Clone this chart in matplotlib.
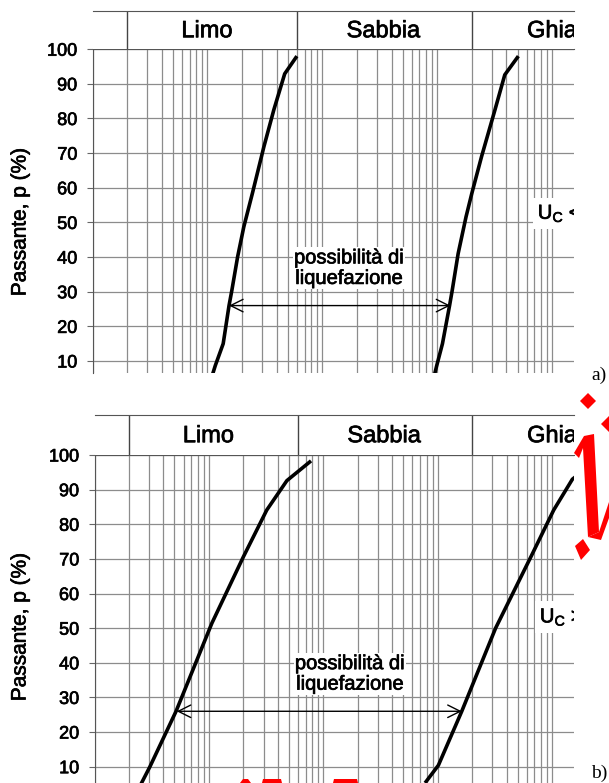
# Curve granulometriche: fusi di possibilita' di liquefazione (a, b)

import matplotlib
matplotlib.use('Agg')
import matplotlib.pyplot as plt
import matplotlib.patheffects as pe
from matplotlib.patches import Polygon
from matplotlib.ticker import LogLocator, NullFormatter

plt.rcParams['font.family'] = ['Liberation Sans', 'DejaVu Sans']

W, H = 609, 783

# classi granulometriche (mm)
classes = ['Limo', 'Sabbia', 'Ghiaia']
class_limits = [0.002, 0.06, 2.0]
class_label_x = [0.0099, 0.34, 12.0]

y_ticks = [10, 20, 30, 40, 50, 60, 70, 80, 90, 100]

# a) fuso per terreni uniformi
fine_a_d = [0.0108, 0.0117, 0.0137, 0.0154, 0.0163, 0.0183, 0.0207, 0.0246, 0.031, 0.0378, 0.047, 0.060]
fine_a_p = [5.0, 8.7, 15.0, 26.0, 30.4, 40.1, 48.7, 58.4, 71.9, 82.5, 92.9, 98.0]
coarse_a_d = [0.93, 0.99, 1.11, 1.28, 1.35, 1.52, 1.78, 2.0, 2.43, 3.18, 3.87, 5.08]
coarse_a_p = [5.0, 8.7, 15.0, 26.0, 30.4, 41.0, 51.6, 58.4, 69.0, 82.5, 92.6, 98.0]
arrow_a = [0.0154, 1.30, 26.0]

# b) fuso per terreni ben gradati
fine_b_d = [0.00255, 0.00305, 0.00516, 0.0106, 0.020, 0.032, 0.048, 0.078]
fine_b_p = [5.0, 10.0, 26.0, 51.4, 70.6, 84.1, 92.6, 98.3]
coarse_b_d = [0.774, 1.012, 1.62, 3.2, 6.6, 10.3, 15.0, 24.0]
coarse_b_p = [5.3, 10.4, 26.0, 50.0, 71.0, 84.1, 93.0, 98.3]
arrow_b = [0.00523, 1.62, 26.0]

GRID = '#8c8c8c'
INK = [pe.withStroke(linewidth=0.5, foreground='black')]


def fig_rect(left, top, right, bottom):
	return [left / W, 1 - bottom / H, (right - left) / W, (bottom - top) / H]


def draw_panel(fig, head_box, box, ymin, fine, coarse, arrow, uc_text, uc_pos, letter, letter_y, label_y):
	ax = fig.add_axes(fig_rect(*box))
	ax.set_xscale('log')
	ax.set_xlim(0.001, 15.5)
	ax.set_ylim(ymin, 100)
	ax.set_yticks(y_ticks)
	ax.xaxis.set_minor_locator(LogLocator(base=10, subs=range(2, 10), numticks=20))
	ax.xaxis.set_minor_formatter(NullFormatter())
	ax.grid(which='both', axis='x', color=GRID, lw=0.9)
	ax.grid(which='major', axis='y', color=GRID, lw=0.9)
	ax.tick_params(axis='x', which='both', length=0, labelbottom=False)
	ax.tick_params(axis='y', length=4, color='#666666', labelsize=13, pad=7)
	for lab in ax.get_yticklabels():
		lab.set_path_effects(INK)
	for side in ['right', 'bottom']:
		ax.spines[side].set_visible(False)
	ax.spines['left'].set_color('#555555')
	ax.spines['top'].set_color('#555555')
	ax.set_axisbelow(True)

	ax.plot(fine[0], fine[1], color='black', lw=2.6, solid_capstyle='butt')
	ax.plot(coarse[0], coarse[1], color='black', lw=2.6, solid_capstyle='butt')
	ax.annotate('', xy=(arrow[0], arrow[2]), xytext=(arrow[1], arrow[2]),
		arrowprops=dict(arrowstyle='<->,head_length=0.9,head_width=0.45', color='black', lw=1.0,
			shrinkA=0, shrinkB=0))
	ax.text(0.171, 36.8, 'possibilità di\nliquefazione', ha='center', va='center',
		fontsize=14.5, linespacing=1.1, path_effects=INK,
		bbox=dict(boxstyle='square,pad=0.05', fc='white', ec='none'))
	ax.text(uc_pos[0], uc_pos[1], uc_text, ha='left', va='center', fontsize=14.5,
		clip_on=True, path_effects=INK,
		bbox=dict(boxstyle='square,pad=0.25', fc='white', ec='none'))

	# intestazione con le classi
	hd = fig.add_axes(fig_rect(*head_box))
	hd.set_xscale('log')
	hd.set_xlim(0.001, 15.5)
	hd.set_ylim(0, 1)
	hd.set_xticks([])
	hd.set_yticks([])
	hd.minorticks_off()
	for side in ['left', 'right', 'bottom']:
		hd.spines[side].set_visible(False)
	hd.spines['top'].set_color('#555555')
	for d in class_limits:
		hd.axvline(d, color='#444444', lw=1.0)
	for name, xc in zip(classes, class_label_x):
		hd.text(xc, 0.47, name, ha='center', va='center', fontsize=17, clip_on=True,
			path_effects=INK)

	fig.text(20 / W, 1 - label_y / H, 'Passante, p (%)', rotation=90, ha='center', va='center',
		fontsize=15, path_effects=INK)
	fig.text(591 / W, 1 - letter_y / H, letter, ha='left', va='center', fontsize=14,
		family='Liberation Serif')
	return ax


def px_poly(points):
	return [(x / W, 1 - y / H) for x, y in points]


def main():
	fig = plt.figure(figsize=(W / 100, H / 100), dpi=100)

	draw_panel(fig, (92.6, 11, 574, 49.2), (92.6, 49.2, 574, 373), 6.54,
		(fine_a_d, fine_a_p), (coarse_a_d, coarse_a_p), arrow_a,
		r'$\mathregular{U_C}$ <', (7.5, 52.6), 'a)', 375, 222)
	draw_panel(fig, (94.5, 415, 574, 455), (94.5, 455, 574, 783), 5.29,
		(fine_b_d, fine_b_p), (coarse_b_d, coarse_b_p), arrow_b,
		r'$\mathregular{U_C}$ >', (7.8, 53.2), 'b)', 773, 627)

	# segni rossi della pagina accanto
	red_marks = [
		[(588, 393), (596, 401), (588, 409), (580, 401)],
		[(611, 414), (621, 424), (611, 434), (601, 424)],
		[(574, 453), (584, 436), (594, 434), (599, 532), (588, 537), (583, 448), (579, 458)],
		[(588, 537), (599, 532), (609, 502), (609, 518), (601, 540)],
		[(575, 546), (583, 539), (590, 550), (581, 560)],
		[(240, 783), (243, 779), (248, 779), (251, 783)],
		[(262, 783), (263, 779), (281, 779), (282, 783)],
		[(333, 783), (334, 779), (357, 779), (358, 783)],
	]
	for pts in red_marks:
		fig.add_artist(Polygon(px_poly(pts), closed=True, fc='#ff0000', ec='none',
			transform=fig.transFigure))

	fig.savefig('out.png', dpi=100)


if __name__ == "__main__":
	main()
